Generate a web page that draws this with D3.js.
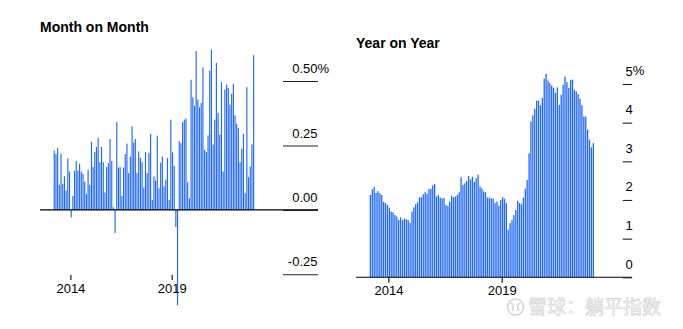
<!DOCTYPE html>
<html>
<head>
<meta charset="utf-8">
<script src="https://cdn.jsdelivr.net/npm/d3@7/dist/d3.min.js"></script>
<style>
  html, body { margin: 0; padding: 0; background: #fff; }
  svg { display: block; }
  text { font-family: "Liberation Sans", Arial, Helvetica, sans-serif; fill: #000; }
</style>
</head>
<body>
<svg id="chart" width="683" height="329"></svg>
<script>
// Monthly readings, March 2013 through January 2023
const firstMonth = new Date(Date.UTC(2013, 2, 1));

// Month-on-month change, %
const momValues = [
  0.23, 0.217, 0.24, 0.097, 0.218, 0.101, 0.13, 0.075, 0.2, 0.149,
  -0.029, 0.054, 0.152, 0.19, 0.152, 0.179, 0.149, 0.14, 0.11, 0.062,
  0.156, 0.097, 0.264, 0.166, 0.224, 0.244, 0.279, 0.185, 0.244, 0.185,
  0.067, 0.166, 0.181, 0.275, 0.19, 0.01, -0.09, 0.34,
  0.164, 0.166, 0.054, 0.164, 0.217, 0.257, 0.143, 0.207, 0.324, 0.262,
  0.275, 0.143, 0.227, 0.201, 0.185, 0.087, 0.224, 0.143, 0.221, 0.295,
  0.039, 0.13, 0.114, 0.288, 0.084, 0.183, 0.207, 0.091, 0.117, 0.201,
  0.039, 0.35, 0.223, 0.171, -0.067, -0.37,
  0.266, 0.259, 0.34, 0.35,
  0.354, 0.108, 0.045, 0.505, 0.437, 0.404, 0.616, 0.428, 0.398, 0.415,
  0.553, 0.233, 0.224, 0.289, 0.54, 0.622, 0.253, 0.35, 0.57, 0.376,
  0.292, 0.496, 0.149, 0.467, 0.486, 0.473, 0.408, 0.45, 0.489, 0.367,
  0.334, 0.318, 0.185, 0.237, 0.294, 0.065, 0.476, 0.127, 0.168, 0.254,
  0.6
];

// Year-on-year change, %
const yoyValues = [
  2.13, 2.28, 2.34, 2.18, 2.23, 2.18, 2.13, 1.95, 1.92, 1.87,
  1.80, 1.70, 1.68, 1.61, 1.57, 1.48, 1.55, 1.48, 1.52, 1.50,
  1.48, 1.41, 1.70, 1.81, 1.89, 1.94, 2.07, 2.07, 2.15, 2.20,
  2.16, 2.28, 2.29, 2.38, 2.41, 2.09, 2.13, 2.06, 2.04,
  2.05, 1.87, 1.84, 1.96, 2.11, 2.07, 2.09, 2.13, 2.20, 2.59,
  2.39, 2.43, 2.49, 2.62, 2.53, 2.60, 2.47, 2.56, 2.65, 2.35,
  2.30, 2.22, 2.20, 2.06, 2.06, 2.04, 2.04, 1.92, 1.96, 1.85,
  2.00, 2.07, 2.03, 1.92, 1.23, 1.40, 1.48, 1.61, 1.74, 1.98,
  1.92,
  1.89, 2.06, 2.29, 2.52, 3.21, 4.03, 4.19, 4.36, 4.57, 4.57,
  4.45, 4.64, 5.14, 5.26, 5.09, 5.02, 4.96, 4.90, 4.77, 4.91,
  4.46, 4.72, 4.98, 5.19, 5.05, 4.90, 5.11, 5.11, 4.85, 4.81,
  4.74, 4.62, 4.45, 4.16, 4.16, 3.82, 3.56, 3.36, 3.47
];

const yearTicks = [2014, 2019];
const momTicks = [0.5, 0.25, 0, -0.25];
const yoyTicks = [0, 1, 2, 3, 4, 5];
const titles = ["Month on Month", "Year on Year"];

const months = d3.utcMonth.range(firstMonth, d3.utcMonth.offset(firstMonth, momValues.length));
const lastEdge = d3.utcMonth.offset(firstMonth, momValues.length);

// plain hyphen for negative numbers
const locale = d3.formatLocale({ decimal: ".", thousands: ",", grouping: [3], currency: ["", ""], minus: "-" });

const barColor = "#2168ff";
const svg = d3.select("#chart");

function drawPanel(opts) {
  const g = svg.append("g");
  const x = d3.scaleUtc().domain([firstMonth, lastEdge]).range(opts.xRange);
  const y = d3.scaleLinear().domain(opts.yDomain).range(opts.yRange);
  const data = months.map((d, i) => ({ date: d, value: opts.values[i] }));

  // bars, centred in their month
  g.append("g").selectAll("rect").data(data).join("rect")
    .attr("x", d => (x(d.date) + x(d3.utcMonth.offset(d.date, 1))) / 2 - opts.barWidth / 2)
    .attr("width", opts.barWidth)
    .attr("y", d => y(Math.max(0, d.value)))
    .attr("height", d => Math.abs(y(d.value) - y(0)))
    .attr("fill", barColor);

  // zero line
  g.append("line")
    .attr("x1", opts.zeroLine[0]).attr("x2", opts.zeroLine[1])
    .attr("y1", y(0)).attr("y2", y(0))
    .attr("stroke", "#000").attr("stroke-width", 1.1);

  // value axis: short rules with the label sitting on top
  const yAxis = d3.axisRight(y)
    .tickValues(opts.yTicks)
    .tickSize(opts.yTickLen)
    .tickSizeOuter(0)
    .tickFormat(opts.yFormat);
  const ya = g.append("g")
    .attr("transform", `translate(${opts.yAxisX},0)`)
    .call(yAxis);
  ya.select(".domain").remove();
  ya.selectAll(".tick line").attr("stroke", "#222").attr("stroke-width", 1.1);
  ya.selectAll(".tick text")
    .attr("x", opts.yLabelRight)
    .attr("dy", 0)
    .attr("y", -opts.yLabelLift)
    .attr("text-anchor", "end")
    .style("font-size", "13px")
    .style("font-family", "'Liberation Sans', Arial, sans-serif");
  const topTick = d3.max(opts.yTicks);
  g.append("text")
    .attr("x", opts.yAxisX + opts.yLabelRight)
    .attr("y", y(topTick) - opts.yLabelLift)
    .style("font-size", "13px")
    .text("%");

  // year axis
  const xAxis = d3.axisBottom(x)
    .tickValues(yearTicks.map(yr => new Date(Date.UTC(yr, 0, 1))))
    .tickSize(opts.xTickLen)
    .tickSizeOuter(0)
    .tickFormat(d3.utcFormat("%Y"));
  const xa = g.append("g")
    .attr("transform", `translate(0,${opts.xAxisY})`)
    .call(xAxis);
  xa.select(".domain").remove();
  xa.selectAll(".tick line").attr("stroke", "#000").attr("stroke-width", 1.1);
  xa.selectAll(".tick text")
    .attr("y", opts.xLabelY)
    .attr("dy", 0)
    .style("font-size", "13px")
    .style("font-family", "'Liberation Sans', Arial, sans-serif");

  // title
  g.append("text")
    .attr("x", opts.titlePos[0]).attr("y", opts.titlePos[1])
    .style("font-size", "14px")
    .style("font-weight", "bold")
    .text(opts.title);
}

drawPanel({
  values: momValues,
  xRange: [53.4, 254.5],
  yDomain: [-0.25, 0.5],
  yRange: [274.3, 81],
  barWidth: 1.15,
  zeroLine: [40, 318],
  yTicks: momTicks,
  yTickLen: 35,
  yAxisX: 283,
  yLabelRight: 34.5,
  yLabelLift: 8.4,
  yFormat: locale.format(".2f"),
  xAxisY: 275,
  xTickLen: 5,
  xLabelY: 17.7,
  titlePos: [40, 32],
  title: titles[0]
});

drawPanel({
  values: yoyValues,
  xRange: [369.4, 594.3],
  yDomain: [0, 5],
  yRange: [277.3, 84],
  barWidth: 1.3,
  zeroLine: [356, 632],
  yTicks: yoyTicks,
  yTickLen: 9.5,
  yAxisX: 622.7,
  yLabelRight: 10,
  yLabelLift: 9,
  yFormat: locale.format("d"),
  xAxisY: 277.3,
  xTickLen: 5.5,
  xLabelY: 17.7,
  titlePos: [356, 48],
  title: titles[1]
});

// source mark, bottom right
const mark = svg.append("g");
mark.append("circle")
  .attr("cx", 515.5).attr("cy", 307).attr("r", 8)
  .attr("fill", "none").attr("stroke", "#d2d2d2").attr("stroke-width", 1.4);
mark.append("path")
  .attr("d", "M510.5,302.5 Q515.5,306 512,311 M520.5,302.5 Q515.5,306 519,311")
  .attr("fill", "none").attr("stroke", "#d2d2d2").attr("stroke-width", 1.4);
mark.append("text")
  .attr("x", 528).attr("y", 314)
  .style("font-family", "'Noto Sans CJK SC', sans-serif")
  .style("font-size", "19px")
  .style("fill", "#fafafa")
  .attr("stroke", "#d0d0d0")
  .attr("stroke-width", 0.6)
  .text("雪球：躺平指数");
</script>
</body>
</html>
